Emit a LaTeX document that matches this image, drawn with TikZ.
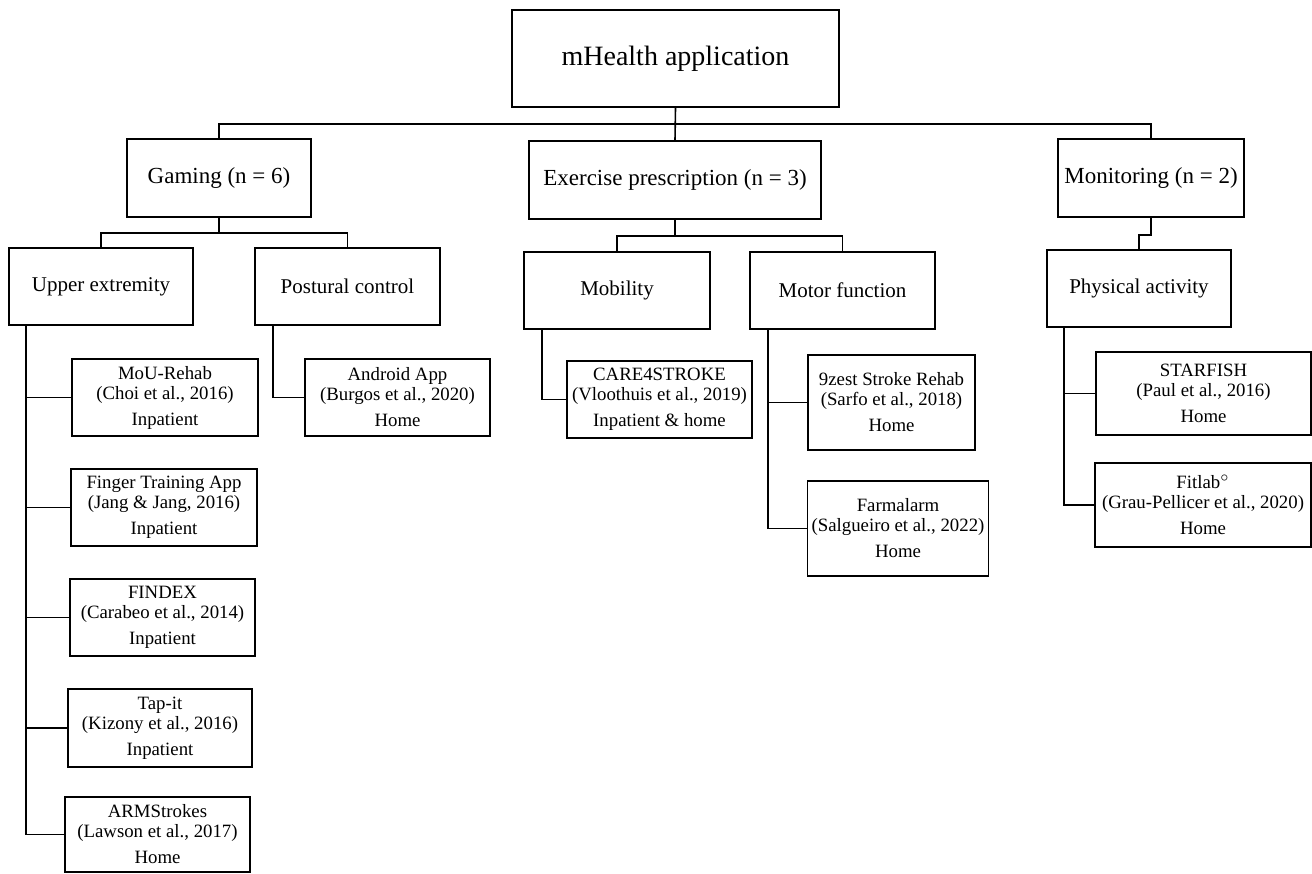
\documentclass[tikz,border=0pt]{standalone}
\usepackage{fontspec}
\setmainfont{Liberation Serif}
\usetikzlibrary{calc}
\tikzset{
  box/.style={draw,line width=0.8pt,align=center,inner sep=2pt},
  topbox/.style={box,font=\fontsize{14}{16}\selectfont},
  catbox/.style={box,font=\fontsize{11.5}{13}\selectfont},
  subbox/.style={box,font=\fontsize{10.5}{12}\selectfont},
  appbox/.style={box,font=\fontsize{9.4}{10}\selectfont},
  sz/.style 2 args={minimum width=#1*0.5pt,minimum height=#2*0.5pt},
  ln/.style={line width=0.8pt},
}

\begin{document}
\begin{tikzpicture}[x=0.5pt,y=0.5pt]
\useasboundingbox (0,0) rectangle (1312,-873);
% root and categories
\node[topbox,sz={327}{97}] (app) at (675.5,-58.5) {mHealth application};
\node[catbox,sz={184}{78}] (gam) at (219,-178) {Gaming (n = 6)};
\node[catbox,sz={292}{78}] (exe) at (675,-180) {Exercise prescription (n = 3)};
\node[catbox,sz={186}{78}] (mon) at (1151,-178) {Monitoring (n = 2)};
% sub-categories
\node[subbox,sz={184}{77}] (upx) at (101,-286.5) {Upper extremity};
\node[subbox,sz={185}{77}] (pos) at (347.5,-286.5) {Postural control};
\node[subbox,sz={186}{77}] (mob) at (617,-290.5) {Mobility};
\node[subbox,sz={185}{77}] (mot) at (842.5,-290.5) {Motor function};
\node[subbox,sz={184}{77}] (phy) at (1139,-288.5) {Physical activity};
% apps
\node[appbox,sz={186}{77}] (mou) at (165,-397.5) {MoU-Rehab\\(Choi et al., 2016)\\[3pt]Inpatient};
\node[appbox,sz={186}{77}] (fin) at (164,-507.5) {Finger Training App\\(Jang \& Jang, 2016)\\[3pt]Inpatient};
\node[appbox,sz={185}{77}] (fdx) at (162.5,-617.5) {FINDEX\\(Carabeo et al., 2014)\\[3pt]Inpatient};
\node[appbox,sz={184}{78}] (tap) at (160,-728) {Tap-it\\(Kizony et al., 2016)\\[3pt]Inpatient};
\node[appbox,sz={185}{75}] (arm) at (157.5,-834.5) {ARMStrokes\\(Lawson et al., 2017)\\[3pt]Home};
\node[appbox,sz={185}{77}] (and) at (397.5,-397.5) {Android App\\(Burgos et al., 2020)\\[3pt]Home};
\node[appbox,sz={185}{77}] (car) at (659.5,-399.5) {CARE4STROKE\\(Vloothuis et al., 2019)\\[3pt]Inpatient \& home};
\node[appbox,sz={167}{95}] (zst) at (891.5,-402.5) {9zest Stroke Rehab\\(Sarfo et al., 2018)\\[3pt]Home};
\node[appbox,sz={180}{95}] (frm) at (898,-528.5) {Farmalarm\\(Salgueiro et al., 2022)\\[3pt]Home};
\node[appbox,sz={215}{83}] (sfh) at (1203.5,-393.5) {STARFISH\\(Paul et al., 2016)\\[3pt]Home};
\node[appbox,sz={216}{84}] (fit) at (1203,-505) {Fitlab$^{\circ}$\\(Grau-Pellicer et al., 2020)\\[3pt]Home};
% tree connectors
\coordinate (b0) at ($(app.south)!0.5!(exe.north)$);
\draw[ln] (app.south) -- (exe.north);
\draw[ln] (gam.north) |- (b0) -| (mon.north);
\coordinate (b1) at ($(gam.south)+(0,-15)$);
\draw[ln] (gam.south) -- (b1);
\draw[ln] (upx.north) |- (b1) -| (pos.north);
\coordinate (b2) at ($(exe.south)+(0,-16)$);
\draw[ln] (exe.south) -- (b2);
\draw[ln] (mob.north) |- (b2) -| (mot.north);
\draw[ln] (mon.south) -- ++(0,-17) -| (phy.north);
% branches to apps
\coordinate (t1) at ($(upx.south west)+(18,0)$);
\draw[ln] (t1) |- (arm.west);
\foreach \n in {mou,fin,fdx,tap} \draw[ln] (t1 |- \n.west) -- (\n.west);
\draw[ln] ($(pos.south west)+(19,0)$) |- (and.west);
\draw[ln] ($(mob.south west)+(19,0)$) |- (car.west);
\coordinate (t2) at ($(mot.south west)+(19,0)$);
\draw[ln] (t2) |- (frm.west);
\draw[ln] (t2 |- zst.west) -- (zst.west);
\coordinate (t3) at ($(phy.south west)+(18,0)$);
\draw[ln] (t3) |- (fit.west);
\draw[ln] (t3 |- sfh.west) -- (sfh.west);
\end{tikzpicture}
\end{document}
